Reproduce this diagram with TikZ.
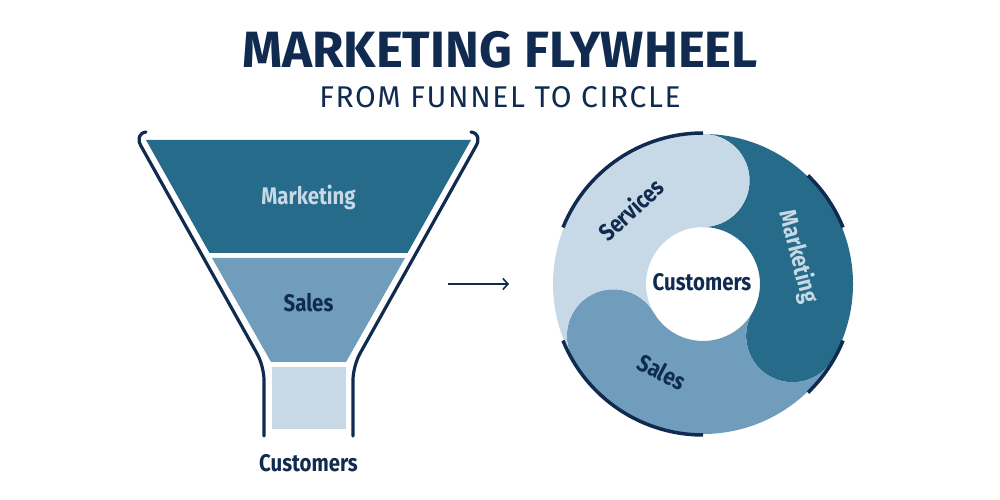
\documentclass[tikz,border=0pt]{standalone}
\usepackage{fontspec}
\setmainfont{Fira Sans}
\newfontfamily\lblfont{Fira Sans}[FakeStretch=0.85]
\newfontfamily\subfont{Fira Sans}[LetterSpace=5.5]
\usetikzlibrary{arrows.meta,calc}
\definecolor{fwNavy}{HTML}{102B4F}
\definecolor{fwDark}{HTML}{266B89}
\definecolor{fwMid}{HTML}{6F9DBB}
\definecolor{fwLight}{HTML}{C7D9E7}
\newcommand\flyseg[3]{\fill[#1] ($(C)+(#2:150pt)$) arc[start angle=#2, end angle=#3, radius=150pt] arc[start angle=#3, end angle=#3-180, radius=46.5pt] arc[start angle=#3, end angle=#2, radius=57pt] arc[start angle=#2+180, end angle=#2+360, radius=46.5pt] -- cycle;}
\tikzset{
  lbl/.style={font={\lblfont\bfseries\fontsize{24}{24}\selectfont}, inner sep=0pt},
  outline/.style={draw=fwNavy, line width=3.2pt, line cap=round, line join=round},
  rimline/.style={draw=fwNavy, line width=3.5pt},
  flowarrow/.style={draw=fwNavy, line width=1.6pt, -{Straight Barb[length=5pt,width=11pt]}},
}
\begin{document}
\begin{tikzpicture}[x=1pt,y=1pt]
\useasboundingbox (0,0) rectangle (1000,500);
% titles
\node[anchor=base, text=fwNavy, font={\bfseries\fontsize{51}{51}\selectfont}, inner sep=0pt] (title) at (500,432) {MARKETING FLYWHEEL};
\node[anchor=base, text=fwNavy, font={\subfont\fontsize{30}{30}\selectfont}, inner sep=0pt] (subtitle) at (500,392) {FROM FUNNEL TO CIRCLE};
% funnel fills
\fill[fwDark] (146,360) -- (471,360) -- (407.5,247) -- (209.5,247) -- cycle;
\fill[fwMid] (212,242) -- (405,242) -- (346,138) -- (271,138) -- cycle;
\fill[fwLight] (271.5,133) rectangle (345.5,71);
% funnel outline
\draw[outline] (146,368) .. controls (139,367) and (137,361) .. (141,354) [rounded corners=14pt] -- (264,134) -- (264,64);
\draw[outline] (471,368) .. controls (478,367) and (480,361) .. (476,354) [rounded corners=14pt] -- (353,134) -- (353,64);
% funnel labels
\node[lbl, text=fwLight, anchor=base] (fmk) at (308.5,295) {Marketing};
\node[lbl, text=fwNavy, anchor=base] (fsl) at (308.5,188) {Sales};
\node[lbl, text=fwNavy, anchor=base] (fcu) at (308.5,28) {Customers};
% arrow
\coordinate (arrS) at (448,216);
\coordinate (arrE) at (509,216);
\draw[flowarrow] (arrS) -- (arrE);
% flywheel
\coordinate (C) at (703,216);
\flyseg{fwDark}{90}{-30}
\flyseg{fwMid}{-30}{-150}
\flyseg{fwLight}{210}{90}
\foreach \s/\e in {90/158, 22/46, -46/-22, 202/270}
  \draw[rimline] ($(C)+(\s:151pt)$) arc[start angle=\s, end angle=\e, radius=151pt];
\node[lbl, text=fwNavy, rotate=43] (wsv) at ($(C)+(134:104pt)$) {Services};
\node[lbl, text=fwLight, rotate=-76] (wmk) at ($(C)+(16:99pt)$) {Marketing};
\node[lbl, text=fwNavy, rotate=-28] (wsl) at ($(C)+(245:97pt)$) {Sales};
\node[lbl, text=fwNavy, anchor=base] (wcu) at (702,209) {Customers};
\end{tikzpicture}
\end{document}
